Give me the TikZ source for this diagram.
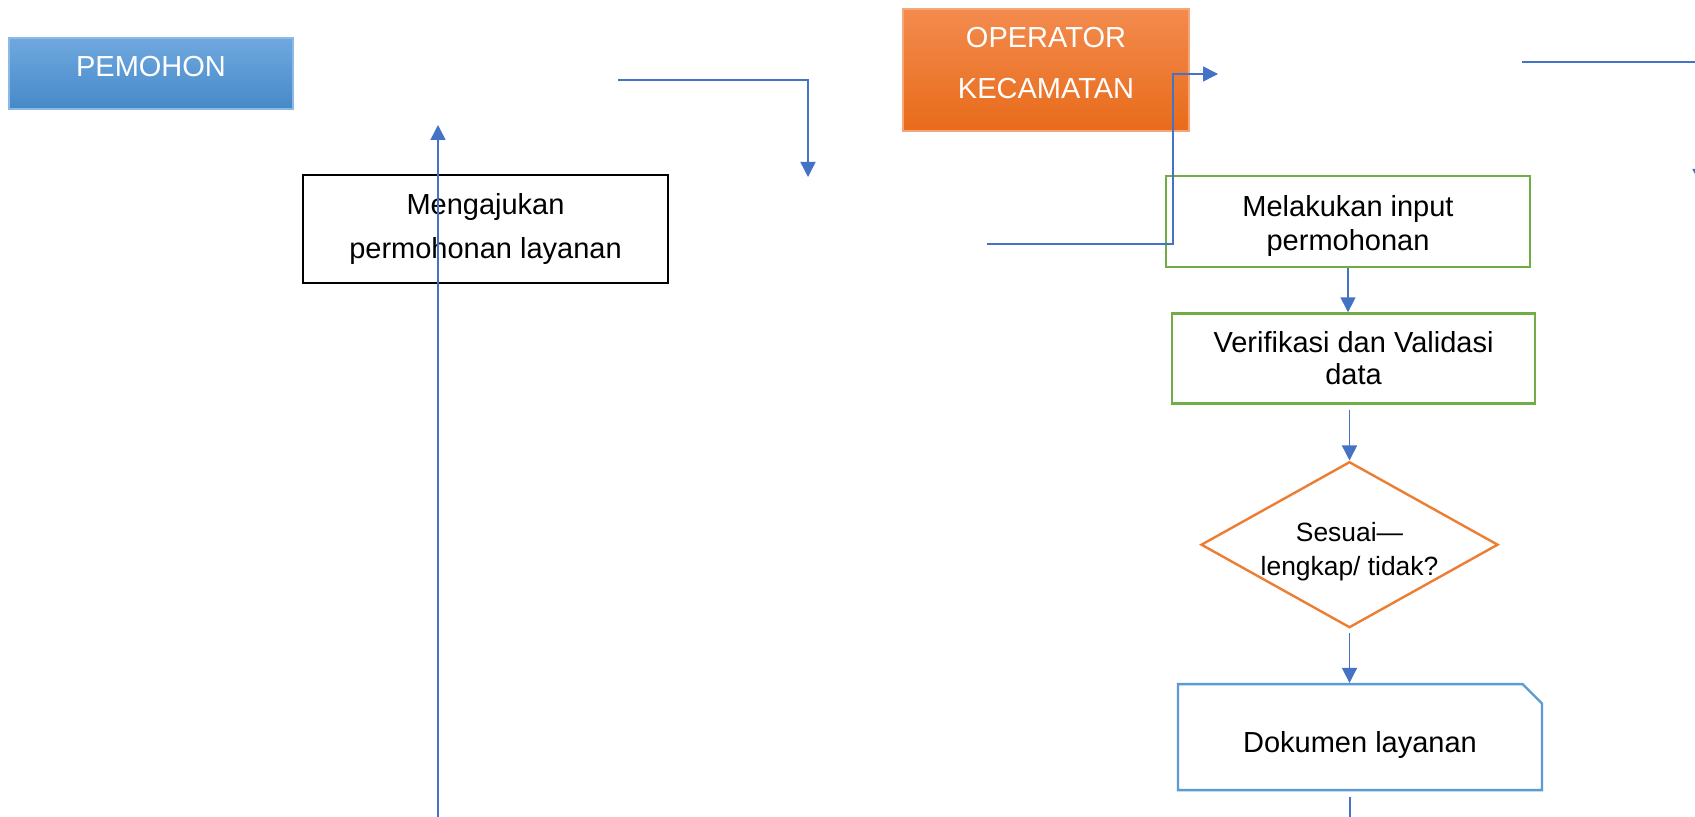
\documentclass[tikz,border=0pt]{standalone}
\usepackage{fontspec}
\setmainfont{Liberation Sans}
\usetikzlibrary{positioning,shapes.geometric,shapes.misc,arrows.meta}

\definecolor{linkblue}{HTML}{4472C4}
\definecolor{stepgreen}{HTML}{70AD47}
\definecolor{decisionorange}{HTML}{ED7D31}
\definecolor{docblue}{HTML}{5B9BD5}
\definecolor{pemohontop}{HTML}{6FA8DF}
\definecolor{pemohonbottom}{HTML}{4689C8}
\definecolor{pemohonedge}{HTML}{8CB9E6}
\definecolor{operatortop}{HTML}{F38B4E}
\definecolor{operatorbottom}{HTML}{E86B1A}
\definecolor{operatoredge}{HTML}{F5A578}

\begin{document}
\begin{tikzpicture}[x=0.5pt, y=-0.5pt,
  txt/.style = {font=\fontsize{14.5pt}{17pt}\selectfont, align=center, inner sep=0pt},
  lane/.style = {txt, shape=rectangle, text=white, line width=0.6pt},
  stepbox/.style = {txt, shape=rectangle, draw=stepgreen, line width=1.3pt, minimum width=182pt, minimum height=45.5pt},
  link/.style = {draw=linkblue, line width=0.75pt},
  flow/.style = {link, -{Triangle[width=7.5pt, length=7.5pt]}}]
\path[use as bounding box, fill=white] (0,0) rectangle (1695,817);

\node[lane, draw=pemohonedge, top color=pemohontop, bottom color=pemohonbottom, minimum width=142pt, minimum height=35.5pt, text depth=7.5pt] (pemohon) at (151,73.5) {PEMOHON};
\node[lane, draw=operatoredge, top color=operatortop, bottom color=operatorbottom, minimum width=143pt, minimum height=61pt, text depth=7.5pt, font=\fontsize{14.5pt}{25.5pt}\selectfont] (operator) at (1046,70) {OPERATOR\\KECAMATAN};

\node[stepbox, draw=black, minimum width=182.5pt, minimum height=54pt, font=\fontsize{14.5pt}{22pt}\selectfont] (ajukan) at (485.5,229) {Mengajukan\\permohonan layanan};
\node[stepbox, text height=32.3pt] (input) at (1348,221.5) {Melakukan input\\permohonan};
\node[stepbox, minimum width=181.5pt, minimum height=45pt, font=\fontsize{14.5pt}{16pt}\selectfont, below=22pt of input, xshift=2.75pt] (verifikasi) {Verifikasi dan Validasi\\data};
\node[txt, shape=diamond, draw=decisionorange, line width=1.2pt, aspect=1.8, minimum width=148.5pt, minimum height=83pt, text height=30.6pt, text depth=0pt, font=\fontsize{13.2pt}{17pt}\selectfont, below=27.8pt of verifikasi, xshift=-2pt] (sesuai) {Sesuai—\\lengkap/ tidak?};
\node[txt, shape=chamfered rectangle, chamfered rectangle corners=north east, chamfered rectangle xsep=6.2pt, draw=docblue, line width=1.2pt, minimum width=182pt, minimum height=53pt, text height=18.5pt, below=27pt of sesuai, xshift=5.25pt] (dokumen) {Dokumen layanan};

\coordinate (a1) at (618,80);
\coordinate (a2) at (808,177);
\coordinate (b1) at (438,830);
\coordinate (b2) at (438,125);
\coordinate (c1) at (987,244);
\coordinate (c3) at (1173,74);
\coordinate (c2) at (1218,74);
\coordinate (d1) at (1522,62);
\coordinate (d2) at (1700,184);
\coordinate (e1) at (1350,830);

\draw[flow] (a1) -| (a2);
\draw[flow] (b1) -- (b2);
\draw[flow] (c1) -| (c3) -- (c2);
\draw[flow] (d1) -| (d2);
\draw[flow] (input.south) -- (input.south |- verifikasi.north);
\draw[flow, shorten <=2.5pt] (sesuai.north |- verifikasi.south) -- (sesuai.north);
\draw[flow, shorten <=2pt] (sesuai.south) -- (sesuai.south |- dokumen.north);
\draw[link, shorten <=3pt] (dokumen.south -| e1) -- (e1);
\end{tikzpicture}
\end{document}
